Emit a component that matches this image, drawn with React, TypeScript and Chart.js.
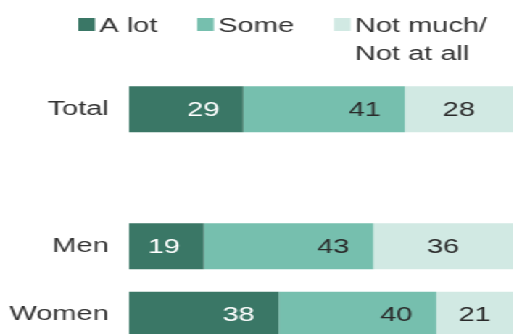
import React, { useEffect, useRef } from "react";
import { Chart, registerables } from "chart.js";

Chart.register(...registerables);

const categories = ["Total", "", "Men", "Women"];
const aLot = [29, null, 19, 38];
const some = [41, null, 43, 40];
const notMuch = [28, null, 36, 21];
const seriesLabels = ["A lot", "Some", "Not much/\nNot at all"];
const seriesColors = ["#3a7766", "#76bfae", "#d1e9e3"];
const labelColors = ["#ffffff", "#2a2a2a", "#2a2a2a"];

const SX = 1.45; // horizontal stretch of the reference
const W = 365;
const H = 375;
const FONT = '20px "Liberation Sans", Arial, sans-serif';

const legendPlugin = {
  id: "customLegend",
  afterDraw(chart: any) {
    const ctx = chart.ctx;
    ctx.save();
    ctx.font = FONT;
    ctx.textBaseline = "alphabetic";
    ctx.textAlign = "left";
    let x = 54;
    const baseline = 31.5;
    const lineH = 28.5;
    chart.data.datasets.forEach((ds: any) => {
      const lines = String(ds.label).split("\n");
      ctx.fillStyle = ds.backgroundColor;
      ctx.fillRect(x, 18, 11.5, 13);
      const tx = x + 14.5;
      ctx.fillStyle = "#333333";
      let maxW = 0;
      lines.forEach((ln: string, j: number) => {
        ctx.fillText(ln, tx, baseline + j * lineH);
        maxW = Math.max(maxW, ctx.measureText(ln).width);
      });
      x = tx + maxW + 27.5;
    });
    ctx.restore();
  },
};

const valueLabelPlugin = {
  id: "valueLabels",
  afterDatasetsDraw(chart: any) {
    const ctx = chart.ctx;
    const visRight = Math.min(chart.chartArea.right, (window.innerWidth || 513) / SX);
    ctx.save();
    ctx.font = FONT;
    ctx.textBaseline = "middle";
    chart.data.datasets.forEach((ds: any, di: number) => {
      const meta = chart.getDatasetMeta(di);
      meta.data.forEach((el: any, idx: number) => {
        const v = ds.data[idx];
        if (v === null || v === undefined) return;
        const { x, base, y } = el.getProps(["x", "base", "y"], true);
        ctx.fillStyle = labelColors[di];
        if (di === 2) {
          ctx.textAlign = "center";
          ctx.fillText(String(v), (base + Math.min(x, visRight)) / 2, y + 1);
        } else {
          ctx.textAlign = "right";
          ctx.fillText(String(v), x - 16.5, y + 1);
        }
      });
    });
    ctx.restore();
  },
};

export default function App() {
  const ref = useRef<HTMLCanvasElement | null>(null);
  useEffect(() => {
    if (!ref.current) return;
    const datasets = [aLot, some, notMuch].map((d, i) => ({
      label: seriesLabels[i],
      data: d,
      backgroundColor: seriesColors[i],
      borderWidth: 0,
      categoryPercentage: 1,
      barPercentage: 0.671,
    }));
    const chart = new Chart(ref.current, {
      type: "bar",
      data: { labels: categories, datasets },
      options: {
        animation: false,
        responsive: false,
        devicePixelRatio: 1,
        indexAxis: "y",
        layout: { padding: { top: 75.1, bottom: 0, left: 0, right: 4.3 } },
        plugins: {
          legend: { display: false },
          tooltip: { enabled: false },
        },
        scales: {
          x: { stacked: true, min: 0, max: 100, display: false },
          y: {
            stacked: true,
            grid: { display: false, drawTicks: false },
            border: { display: false },
            ticks: {
              padding: 14,
              color: "#333333",
              font: { family: '"Liberation Sans", Arial, sans-serif', size: 20 },
            },
            afterFit: (scale: any) => {
              scale.width = 89;
            },
          },
        },
      },
      plugins: [legendPlugin, valueLabelPlugin],
    });
    return () => chart.destroy();
  }, []);
  return (
    <div
      style={{
        position: "fixed",
        left: 0,
        top: 0,
        width: W + "px",
        height: H + "px",
        transform: `scaleX(${SX})`,
        transformOrigin: "0 0",
        background: "#ffffff",
      }}
    >
      <canvas ref={ref} width={W} height={H} style={{ display: "block", width: W + "px", height: H + "px" }} />
    </div>
  );
}
